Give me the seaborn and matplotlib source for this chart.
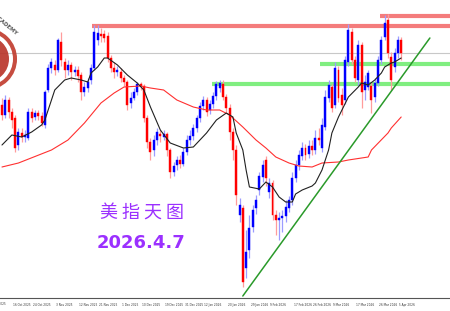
import numpy as np
import pandas as pd
import matplotlib
matplotlib.use("Agg")
import matplotlib.pyplot as plt
import seaborn as sns
from matplotlib import patches, transforms

# ---------------- data (US dollar index, daily candles) ----------------
opens = [98.90, 98.70, 99.00, 98.76, 98.64, 98.10, 98.34, 98.26, 98.24, 98.76,
         98.66, 98.74, 98.68, 98.50, 99.20, 99.64, 99.70, 99.60, 100.16, 99.76,
         99.60, 99.70, 99.56, 99.60, 99.50, 99.16, 99.24, 99.40, 99.64, 100.20,
         100.32, 100.32, 100.28, 99.84, 99.64, 99.56, 99.56, 99.44, 99.36, 98.94,
         99.04, 99.16, 99.32, 99.28, 98.64, 98.16, 98.00, 98.20, 98.32, 98.26,
         98.32, 98.00, 97.56, 97.70, 97.80, 97.72, 97.96, 98.20, 98.28, 98.44,
         98.64, 98.88, 99.00, 98.80, 98.92, 99.08, 99.24, 99.32, 99.06, 98.84,
         98.36, 98.00, 96.70, 96.84, 95.64, 96.00, 96.46, 96.84, 97.20, 97.46,
         97.80, 97.16, 97.34, 96.70, 96.60, 96.64, 96.68, 96.84, 97.00, 97.44,
         97.70, 97.88, 98.04, 97.92, 98.08, 98.00, 98.24, 98.04, 98.46, 99.04,
         99.26, 98.90, 99.60, 99.10, 99.00, 99.76, 100.36, 99.80, 99.40, 100.10,
         99.20, 99.26, 99.28, 99.06, 99.34, 99.80, 100.26, 100.60, 99.86, 99.66,
         99.94, 100.20]
closes = [98.70, 99.00, 98.76, 98.60, 98.04, 98.36, 98.26, 98.30, 98.76, 98.64,
          98.74, 98.68, 98.54, 99.16, 99.64, 99.76, 99.60, 100.20, 99.80, 99.60,
          99.70, 99.56, 99.60, 99.48, 99.16, 99.26, 99.36, 99.64, 100.36, 100.34,
          100.28, 100.24, 99.84, 99.64, 99.56, 99.60, 99.44, 99.36, 98.90, 99.04,
          99.16, 99.32, 99.28, 98.64, 98.16, 97.96, 98.20, 98.36, 98.28, 98.32,
          98.00, 97.56, 97.68, 97.80, 97.72, 97.96, 98.20, 98.28, 98.44, 98.64,
          98.88, 99.00, 98.76, 98.92, 99.08, 99.32, 99.34, 99.06, 98.84, 98.36,
          98.00, 97.10, 96.90, 95.36, 95.96, 96.44, 96.80, 97.00, 97.48, 97.70,
          97.44, 97.34, 96.70, 96.60, 96.64, 96.68, 96.86, 97.00, 97.44, 97.70,
          97.90, 98.04, 97.90, 98.08, 98.00, 98.24, 98.20, 98.50, 99.06, 99.30,
          98.84, 99.64, 99.04, 98.90, 99.80, 100.40, 99.80, 99.44, 100.10, 99.16,
          99.36, 99.54, 99.00, 99.34, 99.80, 100.20, 100.54, 99.94, 99.40, 99.94,
          100.20, 99.94]
highs = [99.04, 99.10, 99.06, 98.84, 98.70, 98.44, 98.44, 98.40, 98.84, 98.84,
         98.80, 98.80, 98.76, 99.20, 99.72, 99.84, 99.80, 100.24, 100.36, 99.84,
         99.80, 99.76, 99.68, 99.68, 99.56, 99.36, 99.44, 99.72, 100.50, 100.50,
         100.44, 100.40, 100.36, 99.90, 99.76, 99.68, 99.64, 99.50, 99.40, 99.16,
         99.24, 99.36, 99.36, 99.32, 98.70, 98.24, 98.30, 98.44, 98.40, 98.40,
         98.36, 98.04, 97.76, 97.88, 97.90, 98.04, 98.30, 98.40, 98.52, 98.70,
         98.96, 99.08, 99.06, 99.00, 99.16, 99.38, 99.40, 99.40, 99.12, 98.92,
         98.44, 98.10, 97.04, 96.90, 96.40, 96.70, 96.90, 97.10, 97.56, 97.80,
         97.88, 97.44, 97.40, 96.80, 96.76, 96.80, 97.00, 97.08, 97.56, 97.80,
         98.00, 98.16, 98.12, 98.20, 98.20, 98.40, 98.44, 98.64, 99.20, 99.40,
         99.32, 99.76, 99.68, 99.24, 99.88, 100.52, 100.44, 99.88, 100.20, 100.16,
         99.50, 99.60, 99.36, 99.44, 99.88, 100.28, 100.70, 100.72, 99.96, 100.04,
         100.28, 100.26]
lows = [98.60, 98.64, 98.64, 98.44, 97.96, 98.00, 98.16, 98.16, 98.20, 98.56,
        98.60, 98.60, 98.48, 98.44, 99.16, 99.54, 99.50, 99.56, 99.68, 99.44,
        99.50, 99.40, 99.48, 99.36, 99.00, 99.08, 99.16, 99.32, 99.60, 100.10,
        100.16, 100.16, 99.76, 99.56, 99.44, 99.48, 99.36, 99.28, 98.80, 98.84,
        99.00, 99.10, 99.20, 98.56, 98.04, 97.80, 97.88, 98.10, 98.16, 98.20,
        97.88, 97.44, 97.48, 97.60, 97.64, 97.68, 97.90, 98.10, 98.20, 98.36,
        98.56, 98.80, 98.68, 98.72, 98.84, 99.00, 99.16, 99.00, 98.76, 98.20,
        97.80, 96.90, 96.56, 95.26, 95.44, 95.84, 96.36, 96.72, 97.10, 97.36,
        97.28, 97.04, 96.60, 96.30, 96.20, 96.36, 96.56, 96.76, 96.90, 97.36,
        97.60, 97.80, 97.80, 97.84, 97.90, 97.92, 98.10, 97.96, 98.40, 98.96,
        98.76, 98.84, 98.96, 98.70, 98.92, 99.68, 99.72, 99.36, 99.30, 98.84,
        99.00, 99.20, 98.74, 98.96, 99.28, 99.72, 100.20, 99.84, 99.20, 99.56,
        99.84, 99.80]

# short moving average (black) read at sample bars
ma_fast_bar = [0, 3, 6, 9, 12, 13, 15, 16, 19, 21, 24, 26, 27, 29, 31, 32, 35, 38, 41, 43,
               45, 48, 51, 55, 58, 62, 65, 68, 70, 71, 73, 74, 75, 78, 80, 82, 84, 86, 88,
               89, 91, 94, 95, 97, 99, 100, 102, 105, 108, 109, 111, 113, 115, 116, 118,
               119, 121]
ma_fast_val = [98.10, 98.30, 98.26, 98.36, 98.50, 98.60, 99.00, 99.20, 99.40, 99.44,
               99.40, 99.36, 99.54, 99.66, 99.84, 99.84, 99.70, 99.50, 99.34, 99.20,
               98.86, 98.40, 98.14, 98.04, 98.06, 98.34, 98.60, 98.74, 98.66, 98.34,
               98.00, 97.60, 97.26, 97.22, 97.36, 97.26, 97.06, 96.96, 96.96,
               97.12, 97.20, 97.28, 97.34, 97.60, 98.00, 98.34, 98.66, 99.06, 99.26,
               99.34, 99.30, 99.40, 99.54, 99.66, 99.74, 99.76, 99.84]
# long moving average (red)
ma_slow_bar = [0, 5, 15, 20, 25, 30, 34, 37, 42, 45, 49, 53, 58, 62, 66, 69, 73, 77, 80,
               83, 87, 90, 94, 97, 102, 105, 111, 112, 117, 118, 121]
ma_slow_val = [97.66, 97.74, 98.00, 98.20, 98.54, 98.94, 99.14, 99.26, 99.28, 99.24,
               99.20, 99.00, 98.86, 98.80, 98.80, 98.70, 98.46, 98.20, 98.04, 97.86,
               97.74, 97.68, 97.66, 97.74, 97.76, 97.80, 97.86, 98.00, 98.34, 98.44,
               98.66]

resistance_levels = [100.48, 100.68]
resistance_start = [27.3, 114.5]
support_levels = [99.32, 99.72]
support_start = [63.6, 96.4]
trend_bar = [73.0, 129.7]
trend_val = [95.08, 100.24]
last_price = 99.94

tick_bars = [3, 9, 16, 23, 29, 36, 42, 49, 55, 61, 68, 75, 81, 88, 94, 100, 107, 114, 120]
tick_labels = ["16 Oct 2025", "24 Oct 2025", "3 Nov 2025", "12 Nov 2025", "21 Nov 2025",
               "1 Dec 2025", "10 Dec 2025", "19 Dec 2025", "31 Dec 2025", "12 Jan 2026",
               "20 Jan 2026", "29 Jan 2026", "9 Feb 2026", "17 Feb 2026", "26 Feb 2026",
               "9 Mar 2026", "17 Mar 2026", "26 Mar 2026", "5 Apr 2026"]

title_cn = "美 指 天 图"
date_text = "2026.4.7"

# ---------------- plotting ----------------
sns.set_style("white")
plt.rcParams['font.family'] = ['DejaVu Sans']

df = pd.DataFrame({"bar": np.arange(len(opens)), "open": opens, "high": highs,
                   "low": lows, "close": closes})
up = df["close"] >= df["open"]

fig = plt.figure(figsize=(4.5, 3.11), dpi=100)
ax = fig.add_axes([0, 13 / 311, 1, 298 / 311])
ax.set_xlim(-0.6, 135.8)
ax.set_ylim(95.04, 101.0)

# horizontal levels and last price line
ax.axhline(last_price, color="#c8c8c8", lw=0.8, zorder=0.5)
ax.hlines(resistance_levels, resistance_start, 136, colors="#f47c7c", lw=3.0, zorder=1)
ax.hlines(support_levels, support_start, 136, colors="#80ee80", lw=3.0, zorder=1)

# candles
ax.vlines(df["bar"], df["low"], df["high"],
          colors=np.where(up, "#9c9cff", "#ff9c9c"), lw=0.9, zorder=2)
body_col = np.where(up, "#0000ff", "#ff0000")
ax.bar(df["bar"], df["close"] - df["open"], bottom=df["open"], width=0.6,
       color=body_col, edgecolor=body_col, linewidth=0.3, zorder=3)

# moving averages and trend line
sns.lineplot(x=ma_slow_bar, y=ma_slow_val, color="#ff3030", lw=0.8, ax=ax, zorder=4)
sns.lineplot(x=ma_fast_bar, y=ma_fast_val, color="#202020", lw=0.8, ax=ax, zorder=4)
sns.lineplot(x=trend_bar, y=trend_val, color="#2a9a2a", lw=1.1, ax=ax, zorder=4)

# axes styling
for s in ["left", "right", "top"]:
    ax.spines[s].set_visible(False)
ax.spines["bottom"].set_color("#555555")
ax.spines["bottom"].set_linewidth(0.8)
ax.set_yticks([])
ax.set_xlabel("")
ax.set_ylabel("")
ax.set_xticks(tick_bars)
ax.set_xticklabels(tick_labels, fontsize=2.1, color="#333333", ha="left")
ax.tick_params(axis="x", direction="out", length=3.2, width=0.5, color="#666666", pad=0.5)
off = transforms.ScaledTranslation(1.2 / 100, 0, fig.dpi_scale_trans)
for lab in ax.get_xticklabels():
    lab.set_transform(lab.get_transform() + off)
ax.text(-3.6, -0.014, "7 Oct 2025", transform=ax.get_xaxis_transform(), fontsize=2.1,
        color="#333333", ha="left", va="top", clip_on=False)

# watermark logo (top-left)
ring = patches.Circle((-0.14, 2.52), 0.29, transform=fig.dpi_scale_trans, fill=False,
                      edgecolor="#c0392b", lw=2.9, alpha=0.9)
fig.add_artist(ring)
inner = patches.Wedge((-0.14, 2.52), 0.23, -90, 90, width=0.09, transform=fig.dpi_scale_trans,
                      facecolor="#b83227", edgecolor="none", alpha=0.9)
fig.add_artist(inner)
fig.text(17 / 450, 1 - 34 / 311, "ACADEMY", rotation=-40, rotation_mode="anchor",
         ha="right", va="center", fontsize=3.8, color="#555555", weight="bold")

# overlay texts
fig.text(142 / 450, 1 - 214 / 311, title_cn, fontsize=13, color="#9b30ff",
         family=["Noto Sans CJK SC", "DejaVu Sans"], ha="center", va="center")
fig.text(141.5 / 450, 1 - 243 / 311, date_text, fontsize=13, weight="bold",
         color="#9b30ff", ha="center", va="center")

fig.savefig("out.png", dpi=100)
